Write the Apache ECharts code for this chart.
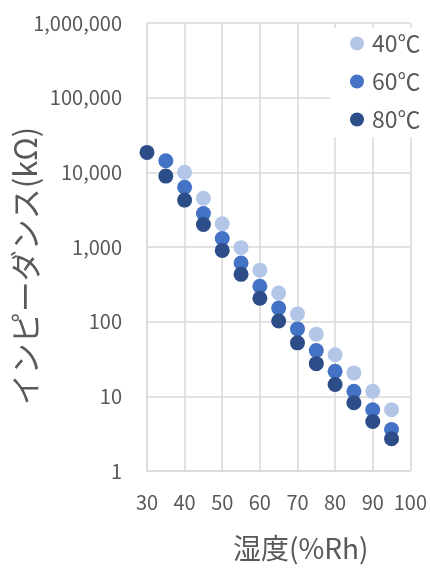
<!DOCTYPE html>
<html><head><meta charset="utf-8">
<script src="https://cdn.jsdelivr.net/npm/echarts@6/dist/echarts.min.js"></script>
<style>html,body{margin:0;padding:0;background:#fff}#c{width:430px;height:571px}</style>
</head><body><div id="c"></div>
<script>
const humidity40 = [40,45,50,55,60,65,70,75,80,85,90,95];
const imp40 = [10000,4500,2050,980,490,242,127,68,36,20.6,11.7,6.6];
const humidity60 = [35,40,45,50,55,60,65,70,75,80,85,90,95];
const imp60 = [14300,6300,2800,1300,610,298,152,80,41,21.6,11.7,6.6,3.6];
const humidity80 = [30,35,40,45,50,55,60,65,70,75,80,85,90,95];
const imp80 = [18500,8900,4250,2000,900,430,206,102,52,27.4,14.4,8.2,4.6,2.7];
const seriesNames = ['40℃','60℃','80℃'];
const colors = ['#B4C6E7','#4472C4','#2C4D88'];
const xTitle = '湿度(%Rh)';
const yTitle = 'インピーダンス(kΩ)';

const font = '"Noto Sans CJK JP","Noto Sans",sans-serif';
const txt = '#595959';
const chart = echarts.init(document.getElementById('c'));
function pairs(xs, ys){ return xs.map((x,i)=>[x, ys[i]]); }
chart.setOption({
  animation:false,
  backgroundColor:'#fff',
  grid:{left:147,right:18,top:23,bottom:100,containLabel:false},
  legend:{
    orient:'vertical', left:330, top:28, width:100,
    backgroundColor:'#fff', padding:[4,4,6,20],
    itemWidth:14, itemHeight:14, itemGap:15, icon:'circle',
    textStyle:{fontFamily:font, fontSize:23, color:txt, padding:[0,0,0,3]},
    data:seriesNames
  },
  xAxis:{
    type:'value', min:30, max:100, interval:10,
    axisLine:{show:true, lineStyle:{color:'#d9d9d9', width:1.5}},
    axisTick:{show:false},
    splitLine:{show:true, lineStyle:{color:'#d9d9d9', width:1.5}},
    axisLabel:{fontFamily:font, fontSize:20, color:txt, margin:21}
  },
  yAxis:{
    type:'log', logBase:10, min:1, max:1000000,
    axisLine:{show:true, lineStyle:{color:'#d9d9d9', width:1.5}},
    axisTick:{show:false},
    splitLine:{show:true, lineStyle:{color:'#d9d9d9', width:1.5}},
    axisLabel:{fontFamily:font, fontSize:20, color:txt, margin:25,
      formatter:v=>Math.round(v).toLocaleString('en-US')}
  },
  graphic:[
    {type:'text', left:233, top:534, style:{text:xTitle, fontFamily:font, fontSize:28, fill:txt}},
    {type:'text', x:25, y:266, rotation:Math.PI/2, style:{text:yTitle, fontFamily:font, fontSize:31, fill:txt, align:'center', verticalAlign:'middle'}}
  ],
  series:[
    {name:seriesNames[0], type:'scatter', symbolSize:15, itemStyle:{color:colors[0], opacity:1}, data:pairs(humidity40, imp40)},
    {name:seriesNames[1], type:'scatter', symbolSize:15, itemStyle:{color:colors[1], opacity:1}, data:pairs(humidity60, imp60)},
    {name:seriesNames[2], type:'scatter', symbolSize:15, itemStyle:{color:colors[2], opacity:1}, data:pairs(humidity80, imp80)}
  ]
});
</script></body></html>
